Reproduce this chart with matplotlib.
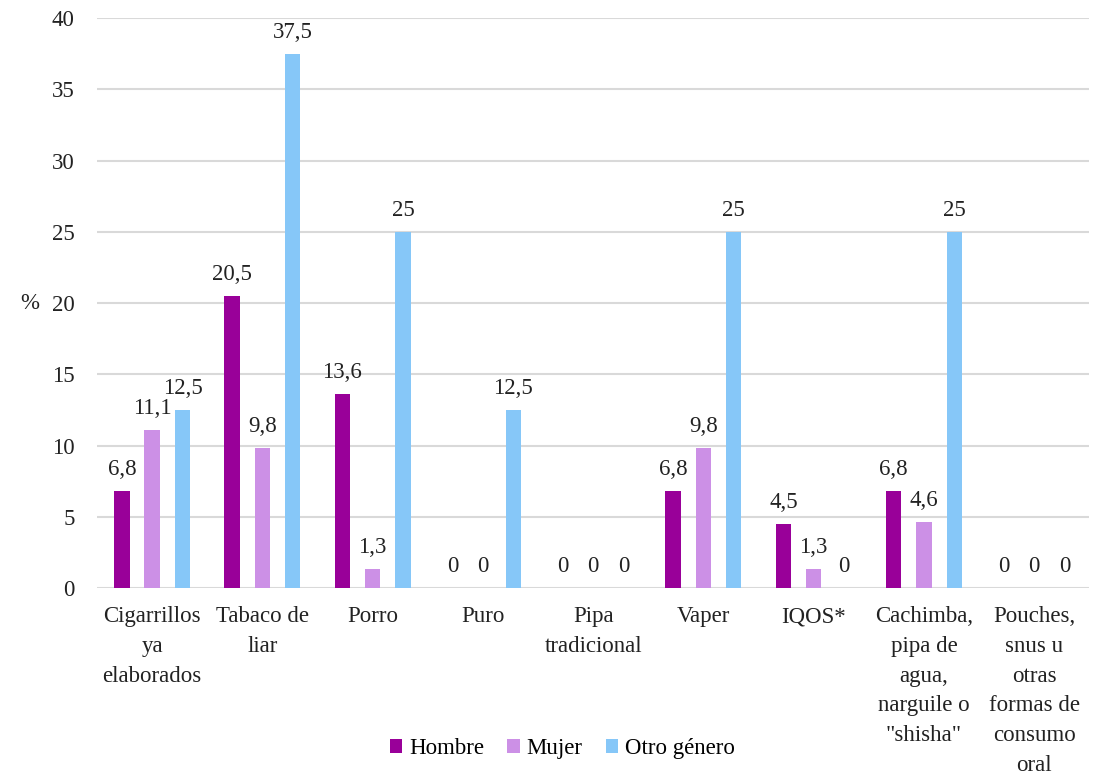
import matplotlib
matplotlib.use("Agg")
import matplotlib.pyplot as plt
import numpy as np

categories = ["Cigarrillos\nya\nelaborados", "Tabaco de\nliar", "Porro", "Puro",
              "Pipa\ntradicional", "Vaper", "IQOS*",
              "Cachimba,\npipa de\nagua,\nnarguile o\n\"shisha\"",
              "Pouches,\nsnus u\notras\nformas de\nconsumo\noral"]
hombre = [6.8, 20.5, 13.6, 0, 0, 6.8, 4.5, 6.8, 0]
mujer = [11.1, 9.8, 1.3, 0, 0, 9.8, 1.3, 4.6, 0]
otro = [12.5, 37.5, 25, 12.5, 0, 25, 0, 25, 0]
series_names = ["Hombre", "Mujer", "Otro género"]
colors = ["#990099", "#CC90E6", "#86C7F8"]

plt.rcParams['font.family'] = ['Liberation Serif', 'DejaVu Serif']
FS = 16.5

fig = plt.figure(figsize=(10.94, 7.84), dpi=100)
ax = fig.add_axes([0.0887, 0.25, 0.907, 0.727])

x = np.arange(len(categories))
w = 0.14
offs = [-0.275, 0, 0.275]
for vals, name, c, o in zip([hombre, mujer, otro], series_names, colors, offs):
    ax.bar(x + o, vals, w, color=c, label=name, zorder=3)
    for xi, v in zip(x + o, vals):
        lab = ("%g" % v).replace(".", ",")
        ax.annotate(lab, (xi, v), xytext=(0, 8), textcoords="offset points",
                    ha="center", va="bottom", fontsize=FS, color="#222222")

ax.set_xlim(-0.5, len(categories) - 0.5)
ax.set_ylim(0, 40)
ax.set_yticks(np.arange(0, 41, 5))
ax.yaxis.grid(True, color="#d9d9d9", linewidth=1.5, zorder=0)
ax.set_axisbelow(True)
for s in ax.spines.values():
    s.set_visible(False)
ax.tick_params(axis="y", length=0, labelsize=FS, pad=16, colors="#222222")
ax.tick_params(axis="x", length=0, labelsize=FS, pad=13, colors="#222222")
ax.set_xticks(x)
ax.set_xticklabels(categories, linespacing=1.55, va="top")
ax.set_ylabel("%", rotation=0, fontsize=FS, color="#222222", va="center")
ax.yaxis.set_label_coords(-0.068, 0.5)

fig.legend(loc="center", bbox_to_anchor=(0.514, 0.045), ncol=3, frameon=False,
           fontsize=FS, handlelength=0.55, handleheight=0.55, handletextpad=0.3,
           columnspacing=1.0)

fig.savefig("out.png", dpi=100)
